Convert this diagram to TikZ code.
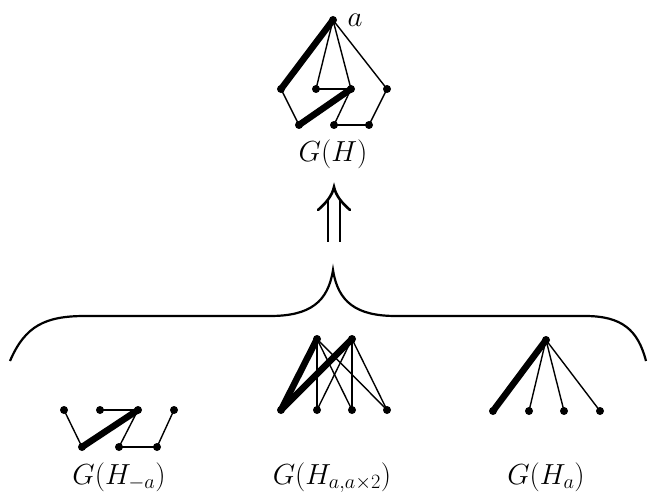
\RequirePackage{fix-cm}
\documentclass[tikz,border=0pt]{standalone}
\usetikzlibrary{calc}
\begin{document}
\begin{tikzpicture}[x=1pt,y=-1pt,
  dot/.style={circle,fill=black,inner sep=0pt,minimum size=8pt},
  thin/.style={line width=1.4pt},
  thick/.style={line width=6.5pt},
  lab/.style={inner sep=0pt,anchor=base,font=\fontsize{29}{34}\selectfont},
  bracestyle/.style={line width=2.2pt},
  arrowstyle/.style={line width=2.6pt}]
\useasboundingbox (0,0) rectangle (650,497);
% top graph G(H)
\node[dot] (a) at (333,20) {};
\node[dot] (L) at (281,89) {};
\node[dot] (M1) at (316,89) {};
\node[dot] (M2) at (351,89) {};
\node[dot] (R) at (387,89) {};
\node[dot] (B1) at (299,125) {};
\node[dot] (B2) at (334,125) {};
\node[dot] (B3) at (369,125) {};
\draw[thick] (a.center) -- (L.center);
\draw[thick] (B1.center) -- (M2.center);
\draw[thin] (a.center) -- (M1.center);
\draw[thin] (a.center) -- (M2.center);
\draw[thin] (a.center) -- (R.center);
\draw[thin] (L.center) -- (B1.center);
\draw[thin] (M1.center) -- (M2.center);
\draw[thin] (M2.center) -- (B2.center);
\draw[thin] (B2.center) -- (B3.center);
\draw[thin] (B3.center) -- (R.center);
\node[lab] (alab) at (355,27) {$a$};
\node[lab] (GH) at (333,162) {$G(H)$};
% double arrow
\draw[arrowstyle] (328,199) -- (328,242);
\draw[arrowstyle] (340,199) -- (340,242);
\draw[arrowstyle,line cap=round] (318,210) .. controls (326,203) and (332,196) .. (334,187)
  .. controls (336,196) and (342,203) .. (350,210);
% brace
\draw[bracestyle] (10,361) .. controls (25,326) and (45,316) .. (85,316) -- (270,316)
  .. controls (310,316) and (328,302) .. (333,270)
  .. controls (338,302) and (356,316) .. (396,316) -- (585,316)
  .. controls (622,316) and (638,330) .. (646,361);
% left graph G(H_{-a})
\node[dot] (p1) at (64,410) {};
\node[dot] (p2) at (100,410) {};
\node[dot] (p3) at (138,410) {};
\node[dot] (p4) at (174,410) {};
\node[dot] (q1) at (82,447) {};
\node[dot] (q2) at (119,447) {};
\node[dot] (q3) at (157,447) {};
\draw[thick] (q1.center) -- (p3.center);
\draw[thin] (p1.center) -- (q1.center);
\draw[thin] (p2.center) -- (p3.center);
\draw[thin] (p3.center) -- (q2.center);
\draw[thin] (q2.center) -- (q3.center);
\draw[thin] (q3.center) -- (p4.center);
\node[lab] (Gm) at (119,484) {$G(H_{-a})$};
% middle graph
\node[dot] (T1) at (317,339) {};
\node[dot] (T2) at (352,339) {};
\node[dot] (b1) at (281,410) {};
\node[dot] (b2) at (317,410) {};
\node[dot] (b3) at (352,410) {};
\node[dot] (b4) at (387,410) {};
\draw[thick] (T1.center) -- (b1.center);
\draw[thick] (T2.center) -- (b1.center);
\foreach \t in {T1,T2}{
  \foreach \b in {b2,b3,b4}{
    \draw[thin] (\t.center) -- (\b.center);
  }
}
\node[lab] (Gaa) at (332,484) {$G(H_{a,a\times 2})$};
% right graph
\node[dot] (top) at (546,340) {};
\node[dot] (c1) at (493,411) {};
\node[dot] (c2) at (529,411) {};
\node[dot] (c3) at (564,411) {};
\node[dot] (c4) at (600,411) {};
\draw[thick] (top.center) -- (c1.center);
\draw[thin] (top.center) -- (c2.center);
\draw[thin] (top.center) -- (c3.center);
\draw[thin] (top.center) -- (c4.center);
\node[lab] (Ga) at (546,484) {$G(H_a)$};
\end{tikzpicture}
\end{document}
